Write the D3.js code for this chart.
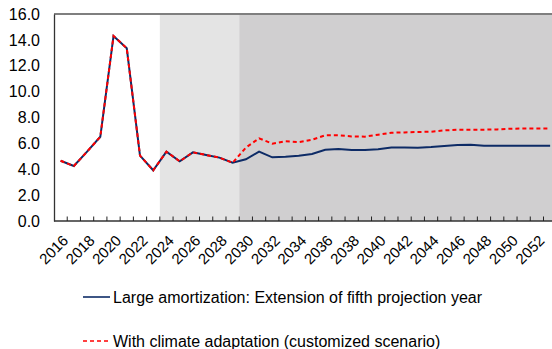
<!DOCTYPE html>
<html>
<head>
<meta charset="utf-8">
<script src="https://cdn.jsdelivr.net/npm/d3@7"></script>
<style>
  body { margin: 0; background: #fff; }
  svg text { font-family: "Liberation Sans", Arial, sans-serif; fill: #000; }
</style>
</head>
<body>
<svg id="chart" width="552" height="349"></svg>
<script>
// categories
const years = [2016, 2017, 2018, 2019, 2020, 2021, 2022, 2023, 2024, 2025,
  2026, 2027, 2028, 2029, 2030, 2031, 2032, 2033, 2034, 2035,
  2036, 2037, 2038, 2039, 2040, 2041, 2042, 2043, 2044, 2045,
  2046, 2047, 2048, 2049, 2050, 2051, 2052, 2053];

// series
const largeAmort = [4.66, 4.25, 5.36, 6.51, 14.3, 13.35, 5.05, 3.92, 5.36, 4.61,
  5.31, 5.1, 4.9, 4.5, 4.77, 5.36, 4.92, 4.97, 5.05, 5.18,
  5.51, 5.56, 5.49, 5.49, 5.54, 5.69, 5.69, 5.67, 5.72, 5.8,
  5.87, 5.9, 5.82, 5.82, 5.82, 5.82, 5.82, 5.82];
const climateAdapt = [4.66, 4.25, 5.36, 6.51, 14.3, 13.35, 5.05, 3.92, 5.36, 4.61,
  5.31, 5.1, 4.9, 4.5, 5.67, 6.39, 5.98, 6.16, 6.1, 6.28,
  6.62, 6.62, 6.54, 6.52, 6.67, 6.82, 6.85, 6.88, 6.9, 7.0,
  7.06, 7.06, 7.06, 7.08, 7.13, 7.15, 7.15, 7.15];

// shaded periods [first year, last year]
const periods = [[2024, 2029], [2030, 2053]];
const yTicks = [0, 2, 4, 6, 8, 10, 12, 14, 16];
const xLabels = [2016, 2018, 2020, 2022, 2024, 2026, 2028, 2030, 2032, 2034,
  2036, 2038, 2040, 2042, 2044, 2046, 2048, 2050, 2052];
const legendLabels = ["Large amortization: Extension of fifth projection year",
  "With climate adaptation (customized scenario)"];

const svg = d3.select("#chart");
const mLeft = 54, mTop = 14, mBottom = 221, band = 13.23;
const fontSize = "16px";

const x = d3.scaleBand().domain(years).range([mLeft, mLeft + years.length * band]);
const y = d3.scaleLinear().domain([0, 16]).range([mBottom, mTop]);

// period shading
const shadeColors = ["#e4e4e4", "#d0cfd0"];
svg.selectAll(".shade").data(periods).enter().append("rect")
  .attr("class", "shade")
  .attr("x", d => x(d[0]))
  .attr("y", mTop + 1)
  .attr("width", d => x(d[1]) + x.bandwidth() - x(d[0]))
  .attr("height", mBottom - mTop - 1)
  .attr("fill", (d, i) => shadeColors[i]);

// top border
svg.append("line")
  .attr("x1", mLeft).attr("x2", 552)
  .attr("y1", mTop).attr("y2", mTop)
  .attr("stroke", "#555").attr("stroke-width", 1.3);

// y axis
const yAxis = svg.append("g")
  .attr("transform", `translate(${mLeft},0)`)
  .call(d3.axisLeft(y).tickValues(yTicks).tickFormat(d3.format(".1f")).tickSize(0).tickPadding(14));
yAxis.select(".domain").attr("stroke", "#333").attr("stroke-width", 1.3);
yAxis.selectAll("text").style("font-size", fontSize).style("font-family", "Liberation Sans, Arial, sans-serif");

// x axis line + inward ticks at band edges
svg.append("line")
  .attr("x1", mLeft).attr("x2", 552)
  .attr("y1", mBottom).attr("y2", mBottom)
  .attr("stroke", "#333").attr("stroke-width", 1.3);
svg.selectAll(".xtick").data(years.slice(1)).enter().append("line")
  .attr("class", "xtick")
  .attr("x1", d => x(d)).attr("x2", d => x(d))
  .attr("y1", mBottom).attr("y2", mBottom - 4.5)
  .attr("stroke", "#222");

svg.selectAll(".xlabel").data(xLabels).enter().append("text")
  .attr("class", "xlabel")
  .attr("transform", d => `translate(${x(d) + x.bandwidth() / 2 + 1},${mBottom + 13}) rotate(-45)`)
  .attr("text-anchor", "end")
  .attr("dy", "0.71em")
  .style("font-size", "15px")
  .text(d => d);

// lines
const line = d3.line()
  .x((d, i) => x(years[i]) + x.bandwidth() / 2)
  .y(d => y(d));

svg.append("path")
  .datum(largeAmort)
  .attr("d", line)
  .attr("fill", "none")
  .attr("stroke", "#0d2b66")
  .attr("stroke-width", 2);

svg.append("path")
  .datum(climateAdapt)
  .attr("d", line)
  .attr("fill", "none")
  .attr("stroke", "#ff0000")
  .attr("stroke-width", 2)
  .attr("stroke-dasharray", "4,3");

// legend
const legendStyles = [{ color: "#0d2b66", dash: null }, { color: "#ff0000", dash: "4,3" }];
const legend = svg.selectAll(".legend").data(legendLabels).enter().append("g")
  .attr("class", "legend")
  .attr("transform", (d, i) => `translate(83,${297 + i * 44})`);
legend.append("line")
  .attr("x1", 0).attr("x2", 27)
  .attr("stroke", (d, i) => legendStyles[i].color)
  .attr("stroke-width", 1.6)
  .attr("stroke-dasharray", (d, i) => legendStyles[i].dash);
legend.append("text")
  .attr("x", 30)
  .attr("dy", "0.36em")
  .style("font-size", fontSize)
  .text(d => d);
</script>
</body>
</html>
